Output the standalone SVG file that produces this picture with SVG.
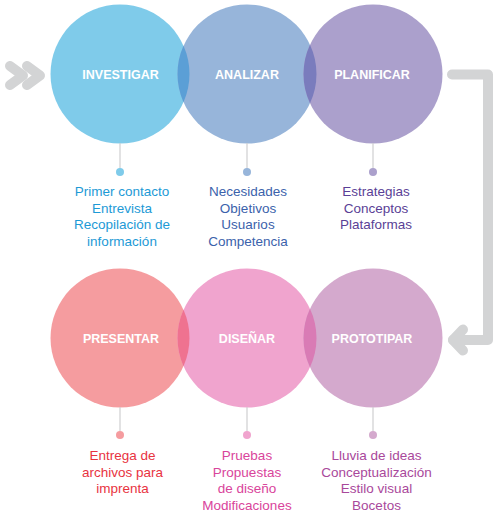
<svg xmlns="http://www.w3.org/2000/svg" width="500" height="523" viewBox="0 0 500 523">
<style>
.lbl{font-family:"Liberation Sans",Arial,sans-serif;font-weight:bold;font-size:12.5px;fill:#ffffff;text-anchor:middle}
.txt{font-family:"Liberation Sans",Arial,sans-serif;font-size:13.5px;text-anchor:middle}
.stem{stroke:#cfcfd1;stroke-width:1.2}
.gray{fill:none;stroke:#d3d4d5;stroke-width:10;stroke-linecap:round;stroke-linejoin:round}
</style>
<rect width="500" height="523" fill="#ffffff"/>
<g id="connectors">
<polyline class="gray" stroke-width="8" points="10,66 23,75.5 10,85"/>
<polyline class="gray" stroke-width="8" points="27,66 40,75.5 27,85"/>
<path class="gray" d="M452,74.5 H488 V340 H453"/>
<polyline class="gray" points="463,329.5 453,340 463,350.5"/>
</g>
<g id="investigar">
<circle cx="120" cy="74" r="69.5" fill="#7fcbea"/>
<text class="lbl" x="120.5" y="79">INVESTIGAR</text>
<line class="stem" x1="120" y1="143" x2="120" y2="172"/>
<circle cx="120" cy="172" r="4" fill="#7fcbea"/>
<text class="txt" fill="#1d9ad6"><tspan x="122" y="196">Primer contacto</tspan><tspan x="122" y="212.5">Entrevista</tspan><tspan x="122" y="229">Recopilación de</tspan><tspan x="122" y="245.5">información</tspan></text>
</g>
<g id="analizar">
<circle cx="247" cy="74" r="69.5" fill="#97b5da"/>
<path d="M183.5,45.8 A69.5,69.5 0 0,1 183.5,102.2 A69.5,69.5 0 0,1 183.5,45.8 Z" fill="#5b9fd6"/>
<text class="lbl" x="247" y="79">ANALIZAR</text>
<line class="stem" x1="247" y1="143" x2="247" y2="172"/>
<circle cx="247" cy="172" r="4" fill="#97b5da"/>
<text class="txt" fill="#3b62ab"><tspan x="248" y="196">Necesidades</tspan><tspan x="248" y="212.5">Objetivos</tspan><tspan x="248" y="229">Usuarios</tspan><tspan x="248" y="245.5">Competencia</tspan></text>
</g>
<g id="planificar">
<circle cx="373" cy="74" r="69.5" fill="#aba0cc"/>
<path d="M310,44.7 A69.5,69.5 0 0,1 310,103.3 A69.5,69.5 0 0,1 310,44.7 Z" fill="#7a7cbd"/>
<text class="lbl" x="372" y="79">PLANIFICAR</text>
<line class="stem" x1="373" y1="143" x2="373" y2="172"/>
<circle cx="373" cy="172" r="4" fill="#aba0cc"/>
<text class="txt" fill="#5a3f96"><tspan x="376" y="196">Estrategias</tspan><tspan x="376" y="212.5">Conceptos</tspan><tspan x="376" y="229">Plataformas</tspan></text>
</g>
<g id="presentar">
<circle cx="120" cy="338" r="69.5" fill="#f59c9f"/>
<text class="lbl" x="121" y="343">PRESENTAR</text>
<line class="stem" x1="120" y1="407" x2="120" y2="435"/>
<circle cx="120" cy="435" r="4" fill="#f59c9f"/>
<text class="txt" fill="#e8333f"><tspan x="122.5" y="460">Entrega de</tspan><tspan x="122.5" y="476.5">archivos para</tspan><tspan x="122.5" y="493">imprenta</tspan></text>
</g>
<g id="disenar">
<circle cx="247" cy="338" r="69.5" fill="#f0a4ce"/>
<path d="M183.5,309.8 A69.5,69.5 0 0,1 183.5,366.2 A69.5,69.5 0 0,1 183.5,309.8 Z" fill="#ef7290"/>
<text class="lbl" x="247" y="343">DISEÑAR</text>
<line class="stem" x1="247" y1="407" x2="247" y2="435"/>
<circle cx="247" cy="435" r="4" fill="#f0a4ce"/>
<text class="txt" fill="#d9449b"><tspan x="247" y="460">Pruebas</tspan><tspan x="247" y="476.5">Propuestas</tspan><tspan x="247" y="493">de diseño</tspan><tspan x="247" y="509.5">Modificaciones</tspan></text>
</g>
<g id="prototipar">
<circle cx="373" cy="338" r="69.5" fill="#d4a9cd"/>
<path d="M310,308.7 A69.5,69.5 0 0,1 310,367.3 A69.5,69.5 0 0,1 310,308.7 Z" fill="#d97bb5"/>
<text class="lbl" x="372" y="343">PROTOTIPAR</text>
<line class="stem" x1="373" y1="407" x2="373" y2="435"/>
<circle cx="373" cy="435" r="4" fill="#d4a9cd"/>
<text class="txt" fill="#a9489b"><tspan x="376.5" y="460">Lluvia de ideas</tspan><tspan x="376.5" y="476.5">Conceptualización</tspan><tspan x="376.5" y="493">Estilo visual</tspan><tspan x="376.5" y="509.5">Bocetos</tspan></text>
</g>
</svg>
